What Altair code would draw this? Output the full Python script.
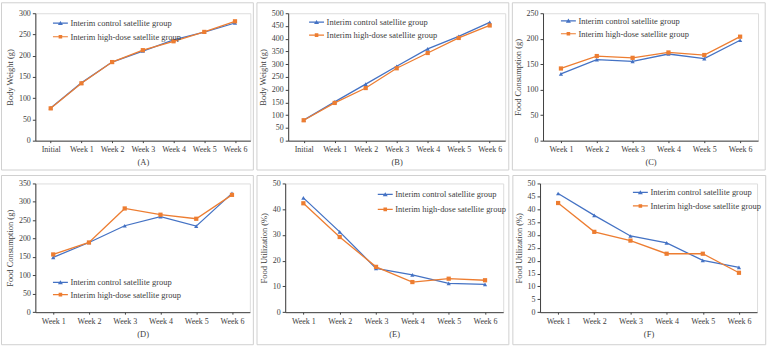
import altair as alt
import pandas as pd

weeks7 = ["Initial", "Week 1", "Week 2", "Week 3", "Week 4", "Week 5", "Week 6"]
weeks6 = ["Week 1", "Week 2", "Week 3", "Week 4", "Week 5", "Week 6"]
groups = ["Interim control satellite group", "Interim high-dose satellite group"]

a_ctrl = [77, 136, 185, 211, 237, 255.6, 277]
a_high = [76, 135, 185, 213, 234, 256, 281]
b_ctrl = [80.5, 152, 222, 292, 360, 409, 464]
b_high = [80, 148, 206.5, 284, 344, 403, 452]
c_ctrl = [131, 159, 155.5, 170, 161, 197]
c_high = [141.6, 166, 162.5, 173, 168, 204]
d_ctrl = [149, 189.5, 235, 260, 234, 323]
d_high = [157, 189.5, 282, 265, 254, 319]
e_ctrl = [44.4, 31.2, 17.0, 14.5, 11.2, 10.8]
e_high = [42.3, 29.2, 17.6, 11.7, 13.0, 12.4]
f_ctrl = [46.1, 37.6, 29.6, 26.9, 20.1, 17.4]
f_high = [42.4, 31.2, 27.8, 22.7, 22.7, 15.3]

COLORS = ["#4472C4", "#ED7D31"]
SHAPES = ["triangle-up", "square"]
LEG_PATHS = [
    "M-1.5,-0.12L1.5,-0.12L1.5,0.12L-1.5,0.12Z M-0.5,0.38L0,-0.45L0.5,0.38Z",
    "M-1.5,-0.12L1.5,-0.12L1.5,0.12L-1.5,0.12Z M-0.36,-0.36L0.36,-0.36L0.36,0.36L-0.36,0.36Z",
]
FONT = "Liberation Serif"
TXT = "#404040"
AX = "#404040"


def panel(cats, ctrl, high, ymax, ystep, ytitle, cap, w, h, legx, legy, rowpad, border):
    n = len(cats)
    df = pd.DataFrame({
        "week": cats * 2,
        "value": ctrl + high,
        "group": [groups[0]] * n + [groups[1]] * n,
    })
    base = alt.Chart(df)
    x = alt.X("week:N", sort=cats,
              scale=alt.Scale(type="point", domain=cats, padding=0.5),
              axis=alt.Axis(title=cap, titleFont=FONT, titleFontSize=8.5, titleFontWeight="normal",
                            titleColor=TXT, titlePadding=4, labelAngle=0, labelFont=FONT,
                            labelFontSize=8, labelColor=TXT, labelPadding=3, tickSize=2,
                            domainColor=AX, tickColor=AX, grid=False))
    y = alt.Y("value:Q",
              scale=alt.Scale(domain=[0, ymax], nice=False, zero=True),
              axis=alt.Axis(title=ytitle, values=list(range(0, ymax + 1, ystep)), titleFont=FONT,
                            titleFontSize=8.5, titleFontWeight="normal", titleColor=TXT,
                            titlePadding=4, labelFont=FONT, labelFontSize=8, labelColor=TXT,
                            labelPadding=2, tickSize=3, domainColor=AX, tickColor=AX, grid=False))
    bx1, bx2, by1, by2 = border
    layers = [
        alt.Chart(pd.DataFrame({"b": [0]})).mark_rect(
            fillOpacity=0, stroke="#d0d0d0", strokeWidth=1
        ).encode(x=alt.value(bx1), x2=alt.value(bx2), y=alt.value(by1), y2=alt.value(by2))
    ]
    for g, col, shp in zip(groups, COLORS, SHAPES):
        sub = base.transform_filter(alt.datum.group == g)
        layers.append(sub.mark_line(color=col, strokeWidth=1.3).encode(x=x, y=y))
        layers.append(sub.mark_point(filled=True, shape=shp, size=18, color=col, opacity=1).encode(x=x, y=y))
    leg = alt.Legend(title=None, orient="none", legendX=legx, legendY=legy, padding=0,
                     symbolSize=100, labelFont=FONT, labelFontSize=8.5, labelColor=TXT,
                     labelOffset=4.1, rowPadding=rowpad, labelLimit=400)
    layers.append(
        base.transform_filter("false").mark_point(filled=True, opacity=1).encode(
            color=alt.Color("group:N", scale=alt.Scale(domain=groups, range=COLORS), legend=leg),
            shape=alt.Shape("group:N", scale=alt.Scale(domain=groups, range=LEG_PATHS), legend=leg),
        )
    )
    return alt.layer(*layers).properties(width=w, height=h)


pA = panel(weeks7, a_ctrl, a_high, 300, 50, "Body Weight (g)", "(A)", 216, 128,
           19.2, 4, 2.6, (-34, 219, -10.5, 157.5))
pB = panel(weeks7, b_ctrl, b_high, 500, 50, "Body Weight (g)", "(B)", 218, 128,
           22.5, 3, 2.0, (-31.4, 221.6, -10.5, 157.5))
pC = panel(weeks6, c_ctrl, c_high, 250, 50, "Food Consumption (g)", "(C)", 216, 128,
           19.5, 1.6, 2.0, (-30.8, 223.2, -10.5, 157.5))
pD = panel(weeks6, d_ctrl, d_high, 350, 50, "Food Consumption (g)", "(D)", 215.5, 129.3,
           19.2, 93.4, 1.3, (-34, 219, -8, 162))
pE = panel(weeks6, e_ctrl, e_high, 50, 10, "Food Utilization (%)", "(E)", 219, 129.3,
           94.5, 5, 4.0, (-28.3, 224.7, -8, 162))
pF = panel(weeks6, f_ctrl, f_high, 50, 5, "Food Utilization (%)", "(F)", 218, 129.3,
           94.8, 3, 2.6, (-27.3, 226.7, -8, 162))


def indep(c):
    return c.resolve_scale(color="independent", shape="independent").resolve_legend(
        color="independent", shape="independent")


row1 = indep(alt.hconcat(pA, pB, pC, spacing=1))
row2 = indep(alt.hconcat(pD, pE, pF, spacing=1))
chart = indep(alt.vconcat(row1, row2, spacing=3)).properties(
    padding={"left": 0.5, "top": 0.5, "right": 0, "bottom": 0}
).configure_view(stroke=None).configure(background="white")

chart.save("out.html", embed_options={"renderer": "svg", "actions": False})
